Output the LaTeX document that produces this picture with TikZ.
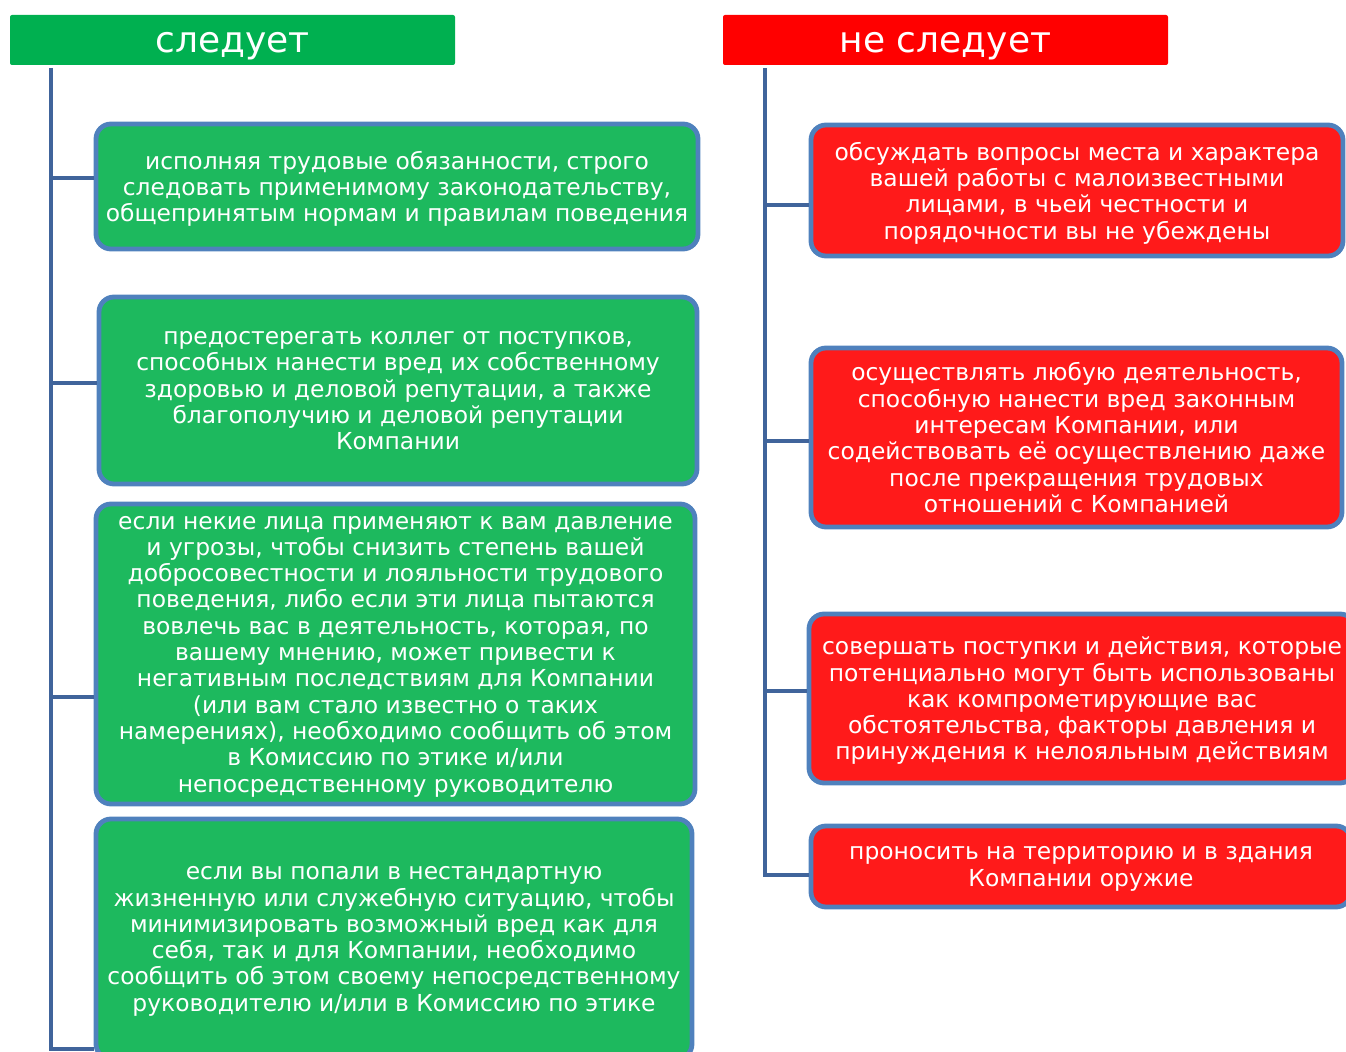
\documentclass[tikz,border=0pt]{standalone}
\usepackage{fontspec}
\setmainfont{DejaVu Sans}
\definecolor{hdrgreen}{RGB}{0,176,80}
\definecolor{hdrred}{RGB}{255,0,0}
\definecolor{boxgreen}{RGB}{29,185,94}
\definecolor{boxred}{RGB}{255,26,26}
\definecolor{boxedge}{RGB}{79,129,189}
\definecolor{linkblue}{RGB}{64,100,155}
\begin{document}
\begin{tikzpicture}[x=0.5pt, y=-0.5pt,
  header/.style={rectangle, rounded corners=1pt, text=white, inner sep=0pt,
    minimum width=222.5pt, minimum height=25pt, text height=13pt, text depth=0pt,
    font=\fontsize{18}{21}\selectfont},
  item/.style={rectangle, rounded corners=7.5pt, draw=boxedge, line width=2.4pt,
    text=white, align=center, inner sep=0pt, text depth=0pt,
    font=\fontsize{11.7}{13.15}\selectfont},
  link/.style={draw=linkblue, line width=2pt}]
\useasboundingbox (0,0) rectangle (1346,1052);

% Заголовки
\node[header, fill=hdrgreen] (hl) at (232.5,40) {следует};
\node[header, fill=hdrred] (hr) at (945.5,40) {не следует};

% Следует
\node[item, fill=boxgreen, minimum width=301pt, minimum height=62.5pt] (b1) at (397,186.5)
  {исполняя трудовые обязанности, строго\\следовать применимому законодательству,\\общепринятым нормам и правилам поведения};
\node[item, fill=boxgreen, minimum width=299pt, minimum height=93.5pt] (b2) at (398,390.5)
  {предостерегать коллег от поступков,\\способных нанести вред их собственному\\здоровью и деловой репутации, а также\\благополучию и деловой репутации\\Компании};
\node[item, fill=boxgreen, minimum width=299.5pt, minimum height=150pt] (b3) at (395.5,654)
  {если некие лица применяют к вам давление\\и угрозы, чтобы снизить степень вашей\\добросовестности и лояльности трудового\\поведения, либо если эти лица пытаются\\вовлечь вас в деятельность, которая, по\\вашему мнению, может привести к\\негативным последствиям для Компании\\(или вам стало известно о таких\\намерениях), необходимо сообщить об этом\\в Комиссию по этике и/или\\непосредственному руководителю};
\node[item, fill=boxgreen, minimum width=298pt, minimum height=120pt] (b4) at (394,939)
  {если вы попали в нестандартную\\жизненную или служебную ситуацию, чтобы\\минимизировать возможный вред как для\\себя, так и для Компании, необходимо\\сообщить об этом своему непосредственному\\руководителю и/или в Комиссию по этике};

% Не следует
\node[item, fill=boxred, minimum width=266pt, minimum height=65.5pt] (r1) at (1077,190.5)
  {обсуждать вопросы места и характера\\вашей работы с малоизвестными\\лицами, в чьей честности и\\порядочности вы не убеждены};
\node[item, fill=boxred, minimum width=265.5pt, minimum height=89.5pt] (r2) at (1076.5,437.5)
  {осуществлять любую деятельность,\\способную нанести вред законным\\интересам Компании, или\\содействовать её осуществлению даже\\после прекращения трудовых\\отношений с Компанией};
\node[item, fill=boxred, minimum width=273pt, minimum height=84.5pt] (r3) at (1082,698.5)
  {совершать поступки и действия, которые\\потенциально могут быть использованы\\как компрометирующие вас\\обстоятельства, факторы давления и\\принуждения к нелояльным действиям};
\node[item, fill=boxred, minimum width=270pt, minimum height=40.5pt] (r4) at (1081,866.5)
  {проносить на территорию и в здания\\Компании оружие};

% Стволы
\coordinate (tl) at (51,68);
\coordinate (tr) at (765,68);
\draw[link] (tl) |- (b4.west |- 0,1049);
\draw[link] (tl |- 0,178) -- (b1.west |- 0,178);
\draw[link] (tl |- 0,383) -- (b2.west |- 0,383);
\draw[link] (tl |- 0,697) -- (b3.west |- 0,697);
\draw[link] (tr) |- (r4.west |- 0,875);
\draw[link] (tr |- 0,205) -- (r1.west |- 0,205);
\draw[link] (tr |- 0,441) -- (r2.west |- 0,441);
\draw[link] (tr |- 0,691) -- (r3.west |- 0,691);
\end{tikzpicture}
\end{document}
